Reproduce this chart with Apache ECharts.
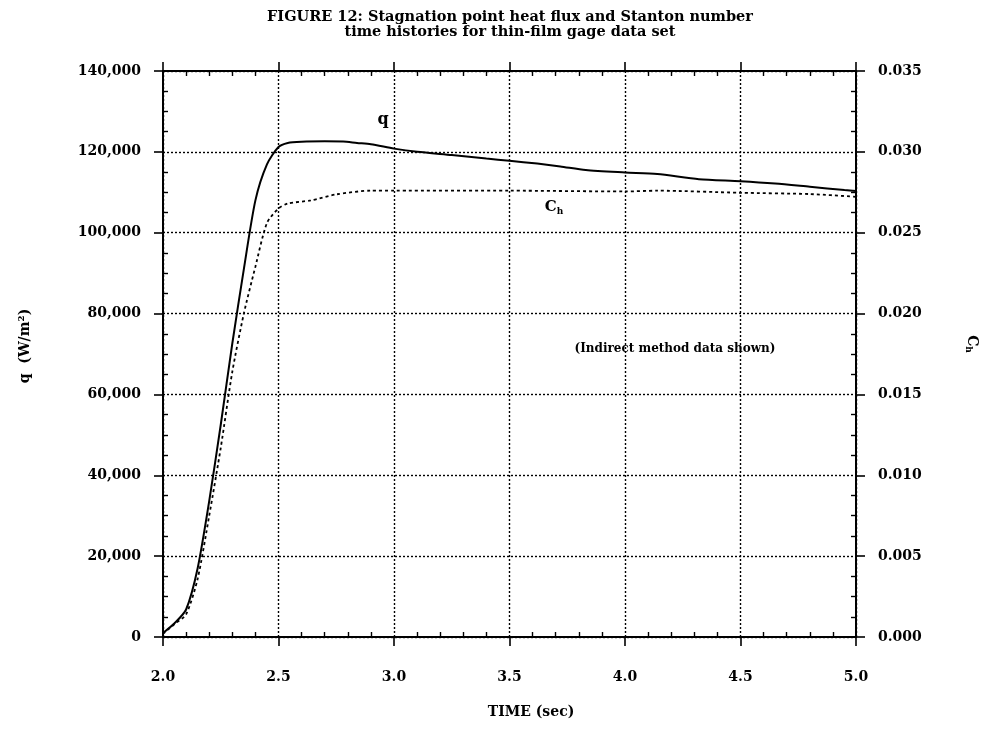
<!DOCTYPE html>
<html>
<head>
<meta charset="utf-8">
<title>Figure 12</title>
<script src="https://cdn.jsdelivr.net/npm/echarts@6/dist/echarts.min.js"></script>
<style>
  html, body { margin: 0; padding: 0; background: #fff; }
  #chart { width: 992px; height: 729px; }
</style>
</head>
<body>
<div id="chart"></div>
<script>
// time axis ticks (sec)
const timeTicks = [2.0, 2.5, 3.0, 3.5, 4.0, 4.5, 5.0];

// heat flux q (W/m^2), solid line
const qTime = [2.0, 2.05, 2.1, 2.15, 2.2, 2.25, 2.3, 2.35, 2.4, 2.45, 2.5, 2.54, 2.6, 2.7, 2.78, 2.84, 2.9,
  3.0, 3.1, 3.25, 3.4, 3.5, 3.62, 3.72, 3.83, 4.0, 4.14, 4.32, 4.5, 4.65, 4.8, 4.95, 5.0];
const qFlux = [1000, 3400, 6800, 17000, 33600, 52500, 72600, 91000, 108000, 116900, 121200, 122200, 122500, 122600, 122550, 122200, 121900,
  120800, 120000, 119200, 118350, 117800, 117100, 116400, 115500, 114900, 114500, 113250, 112760, 112180, 111360, 110540, 110300];

// Stanton number Ch, dotted line
const chTime = [2.0, 2.05, 2.1, 2.15, 2.2, 2.25, 2.3, 2.35, 2.4, 2.45, 2.5, 2.54, 2.64, 2.75, 2.9,
  3.0, 3.5, 4.0, 4.14, 4.5, 4.8, 5.0];
const chValue = [0.0002, 0.0008, 0.0014, 0.0036, 0.0075, 0.0117, 0.0164, 0.0200, 0.0229, 0.0256, 0.0265, 0.0268, 0.0270, 0.02737, 0.0276,
  0.0276, 0.0276, 0.02755, 0.0276, 0.02747, 0.02739, 0.02722];

const FONT = '"DejaVu Serif", "Liberation Serif", serif';
const grid = { left: 163, right: 136, top: 71, bottom: 92 };

function pairs(xs, ys) {
  return xs.map((x, i) => [x, ys[i]]);
}

function withCommas(v) {
  return String(Math.round(v)).replace(/\B(?=(\d{3})+(?!\d))/g, ',');
}

const dotted = { type: [2, 2], color: '#000', width: 1.4 };

// major axis: line, outward ticks, labels
function majorX(position, labels, grid) {
  return {
    type: 'value', position, min: timeTicks[0], max: timeTicks[timeTicks.length - 1], interval: 0.5,
    axisLine: { show: true, onZero: false, lineStyle: { color: '#000', width: 2 } },
    axisTick: { show: true, inside: false, length: 9, lineStyle: { color: '#000', width: 1.6 } },
    axisLabel: {
      show: labels, margin: 33, color: '#000', fontFamily: FONT, fontWeight: 'bold', fontSize: 14,
      formatter: (v) => v.toFixed(1)
    },
    splitLine: { show: grid, lineStyle: dotted }
  };
}

// minor axis: only short inward ticks
function minorX(position) {
  return {
    type: 'value', position, min: timeTicks[0], max: timeTicks[timeTicks.length - 1], interval: 0.5,
    axisLine: { show: false, onZero: false },
    axisTick: { show: false, inside: true },
    axisLabel: { show: false },
    minorTick: { show: true, splitNumber: 5, length: 5, lineStyle: { color: '#000', width: 1.4 } },
    splitLine: { show: false }
  };
}

function majorY(position, max, interval, labels, grid, fmt) {
  return {
    type: 'value', position, min: 0, max, interval,
    axisLine: { show: true, onZero: false, lineStyle: { color: '#000', width: 2 } },
    axisTick: { show: true, inside: false, length: 9, lineStyle: { color: '#000', width: 1.6 } },
    axisLabel: {
      show: labels, margin: 22, color: '#000', fontFamily: FONT, fontWeight: 'bold', fontSize: 14,
      formatter: fmt
    },
    splitLine: { show: grid, lineStyle: dotted }
  };
}

function minorY(position, max, interval) {
  return {
    type: 'value', position, min: 0, max, interval,
    axisLine: { show: false, onZero: false },
    axisTick: { show: false, inside: true },
    axisLabel: { show: false },
    minorTick: { show: true, splitNumber: 4, length: 5, lineStyle: { color: '#000', width: 1.4 } },
    splitLine: { show: false }
  };
}

const chart = echarts.init(document.getElementById('chart'), null, { renderer: 'canvas' });

chart.setOption({
  animation: false,
  backgroundColor: '#fff',
  grid: grid,
  xAxis: [
    majorX('bottom', true, true),
    minorX('bottom'),
    majorX('top', false, false),
    minorX('top')
  ],
  yAxis: [
    majorY('left', 140000, 20000, true, true, withCommas),
    minorY('left', 140000, 20000),
    majorY('right', 0.035, 0.005, true, false, (v) => v.toFixed(3)),
    minorY('right', 0.035, 0.005)
  ],
  series: [
    {
      name: 'q', type: 'line', xAxisIndex: 0, yAxisIndex: 0,
      data: pairs(qTime, qFlux),
      showSymbol: false, smooth: 0.25,
      lineStyle: { color: '#000', width: 2 }
    },
    {
      name: 'Ch', type: 'line', xAxisIndex: 0, yAxisIndex: 2,
      data: pairs(chTime, chValue),
      showSymbol: false, smooth: 0.25,
      lineStyle: { color: '#000', width: 1.8, type: [3, 3] }
    }
  ],
  graphic: [
    {
      type: 'text', x: 510, y: 10,
      style: {
        text: 'FIGURE 12: Stagnation point heat flux and Stanton number\ntime histories for thin-film gage data set',
        font: 'bold 14.5px ' + FONT, fill: '#000', textAlign: 'center', lineHeight: 15
      }
    },
    {
      type: 'text', x: 531, y: 712,
      style: { text: 'TIME (sec)', font: 'bold 14px ' + FONT, fill: '#000', textAlign: 'center', textVerticalAlign: 'middle' }
    },
    {
      type: 'text', x: 25, y: 346, rotation: Math.PI / 2,
      style: { text: 'q  (W/m²)', font: 'bold 14px ' + FONT, fill: '#000', textAlign: 'center', textVerticalAlign: 'middle' }
    },
    {
      type: 'text', x: 972, y: 344, rotation: -Math.PI / 2,
      style: {
        text: '{c|C}{h|h}', fill: '#000', textAlign: 'center', textVerticalAlign: 'middle',
        rich: {
          c: { fontFamily: FONT, fontWeight: 'bold', fontSize: 14 },
          h: { fontFamily: FONT, fontWeight: 'bold', fontSize: 9, padding: [8, 0, 0, 0] }
        }
      }
    },
    {
      type: 'text', x: 383, y: 120,
      style: { text: 'q', font: 'bold 16px ' + FONT, fill: '#000', textAlign: 'center', textVerticalAlign: 'middle' }
    },
    {
      type: 'text', x: 554, y: 207,
      style: {
        text: '{c|C}{h|h}', fill: '#000', textAlign: 'center', textVerticalAlign: 'middle',
        rich: {
          c: { fontFamily: FONT, fontWeight: 'bold', fontSize: 15 },
          h: { fontFamily: FONT, fontWeight: 'bold', fontSize: 9, padding: [10, 0, 0, 0] }
        }
      }
    },
    {
      type: 'text', x: 675, y: 349,
      style: { text: '(Indirect method data shown)', font: 'bold 12px ' + FONT, fill: '#000', textAlign: 'center', textVerticalAlign: 'middle' }
    }
  ]
});
</script>
</body>
</html>
